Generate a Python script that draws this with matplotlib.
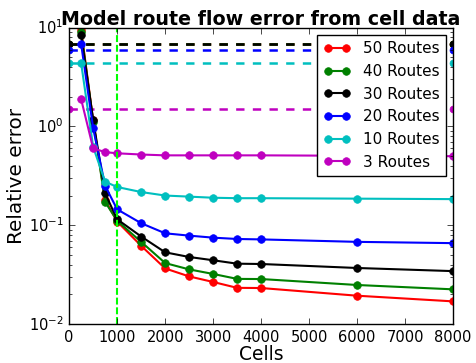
import matplotlib
matplotlib.use('Agg')
import matplotlib.pyplot as plt

plt.style.use('classic')
plt.rcParams['mathtext.fontset'] = 'dejavusans'
plt.rcParams['font.family'] = 'DejaVu Sans'

# data
cells = [250, 500, 750, 1000, 1500, 2000, 2500, 3000, 3500, 4000, 6000, 8000]
labels = ['50 Routes', '40 Routes', '30 Routes', '20 Routes', '10 Routes', '3 Routes']
colors = ['r', 'g', 'k', 'b', 'c', 'm']

err_50 = [9.5, 1.15, 0.18, 0.109, 0.062, 0.0366, 0.0304, 0.0267, 0.0233, 0.0232, 0.0194, 0.017]
err_40 = [9.1, 1.12, 0.172, 0.111, 0.068, 0.0415, 0.0358, 0.0322, 0.0287, 0.0286, 0.0249, 0.0225]
err_30 = [8.4, 1.16, 0.21, 0.115, 0.077, 0.0533, 0.0478, 0.0443, 0.0409, 0.0406, 0.037, 0.0344]
err_20 = [6.8, 0.96, 0.25, 0.145, 0.105, 0.083, 0.0786, 0.075, 0.0727, 0.072, 0.068, 0.066]
err_10 = [4.36, 0.62, 0.276, 0.244, 0.217, 0.2, 0.195, 0.19, 0.188, 0.188, 0.186, 0.184]
err_3 = [1.88, 0.60, 0.55, 0.535, 0.52, 0.51, 0.51, 0.51, 0.51, 0.51, 0.505, 0.50]
errors = [err_50, err_40, err_30, err_20, err_10, err_3]

# baseline errors (dashed lines)
baseline = [6.9, 6.85, 6.8, 5.95, 4.36, 1.5]
baseline_x = [0, 8000]
cutoff = 1000

fig = plt.figure(figsize=(4.77, 3.63), dpi=100, facecolor='white')
ax = fig.add_axes([0.145, 0.107, 0.805, 0.817])

for b, c in zip(baseline, colors):
    ax.plot(baseline_x, [b, b], 'o--', color=c, lw=1.8, ms=5, mec=c)

lines = []
for e, c, l in zip(errors, colors, labels):
    ln, = ax.plot(cells, e, 'o-', color=c, lw=1.5, ms=5.5, mec=c, label=l)
    lines.append(ln)

ax.axvline(cutoff, color='#00ff00', ls='--', lw=1.5, dashes=(5, 2))

ax.set_yscale('log')
ax.set_xlim(0, 8000)
ax.set_ylim(1e-2, 1e1)
ax.set_xticks(range(0, 8001, 1000))
ax.tick_params(labelsize=10.5)

ax.set_xlabel('Cells', fontsize=13.5, labelpad=0)
ax.set_ylabel('Relative error', fontsize=14.4, labelpad=2)
ax.set_title('Model route flow error from cell data', fontsize=13.7, fontweight='bold', y=0.985)

ax.legend(handles=lines, loc='upper right', fontsize=11, numpoints=2, handlelength=1.8)

fig.savefig('out.png', dpi=100, facecolor='white')
